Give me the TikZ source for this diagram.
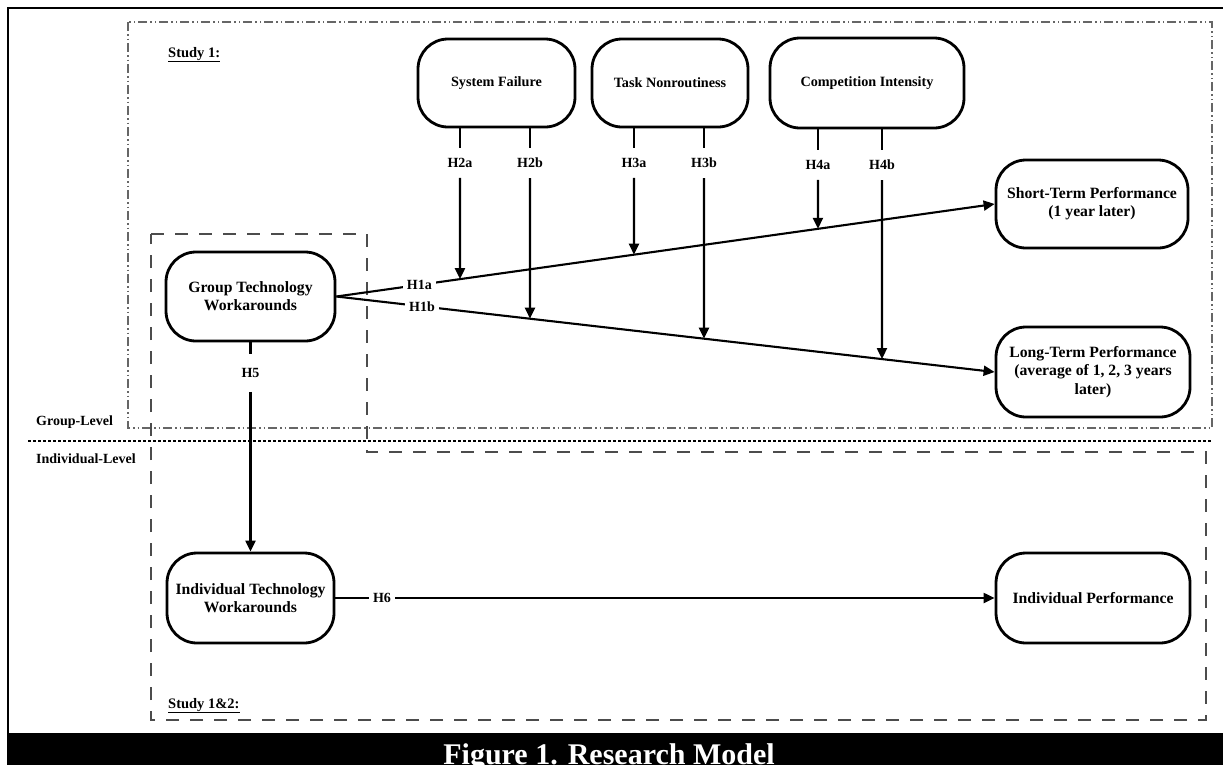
\documentclass[tikz,border=0pt]{standalone}
\usepackage{fontspec}
\setmainfont{Liberation Serif}
\usetikzlibrary{arrows.meta}
\begin{document}
\begin{tikzpicture}[x=1pt,y=-1pt,
  cbox/.style={draw, line width=2.8pt, rounded corners=30pt, align=center, inner sep=2pt,
    font=\bfseries\fontsize{15.7}{18.3}\selectfont, fill=white},
  mbox/.style={cbox, font=\bfseries\fontsize{14.2}{17}\selectfont},
  hlab/.style={fill=white, font=\bfseries\fontsize{14}{16}\selectfont, inner xsep=4pt, inner ysep=2pt},
  vlab/.style={fill=white, font=\bfseries\fontsize{14}{16}\selectfont, inner xsep=2pt, inner ysep=10pt},
  lvl/.style={font=\bfseries\fontsize{14}{16}\selectfont, anchor=base west, inner sep=0pt},
  arr/.style={line width=2.1pt, -{Triangle[length=11pt,width=10pt]}},
  conn/.style={line width=2.1pt},
  studyone/.style={draw=black!60, line width=1.2pt, dash pattern=on 9pt off 3pt on 1.5pt off 3pt on 1.5pt off 3pt},
  studytwo/.style={draw=black!70, line width=1.3pt, dash pattern=on 13pt off 11pt},
  levelline/.style={draw=black, line width=1.7pt, dash pattern=on 3pt off 2pt},
]
\useasboundingbox (0,0) rectangle (1223,764);

% outer frame and caption bar
\draw[line width=2.6pt] (1240,8) -- (8,8) -- (8,740);
\fill[black] (7,733) rectangle (1240,775);
\node[font=\bfseries\fontsize{30}{30}\selectfont, text=white, anchor=base, inner sep=0pt] (title) at (609,764) {Figure 1. Research Model};

% study boxes
\draw[studyone] (128,22) rectangle (1212,428);
\draw[studytwo] (151,234) -- (367,234) -- (367,452) -- (1206,452) -- (1206,720) -- (151,720) -- cycle;
\draw[levelline] (28,441) -- (1212,441);

\node[lvl, font=\bfseries\fontsize{14.5}{16}\selectfont] (s1) at (168,57) {\underline{Study 1:}};
\node[lvl, font=\bfseries\fontsize{14.5}{16}\selectfont] (s12) at (168,708) {\underline{Study 1\&2:}};
\node[lvl] (gl) at (36,425) {Group-Level};
\node[lvl] (il) at (36,463) {Individual-Level};

% constructs
\node[cbox, minimum width=169pt, minimum height=89pt] (g) at (250.5,296.5) {Group Technology\\Workarounds};
\node[mbox, minimum width=157pt, minimum height=88pt] (sf) at (496.5,83) {System Failure};
\node[mbox, minimum width=156pt, minimum height=88pt] (tn) at (670,83) {Task Nonroutiness};
\node[mbox, minimum width=194pt, minimum height=90pt] (ci) at (867,83) {Competition Intensity};
\node[cbox, minimum width=192pt, minimum height=88pt] (st) at (1092,204) {Short-Term Performance\\(1 year later)};
\node[cbox, minimum width=194pt, minimum height=90pt] (lt) at (1093,372) {Long-Term Performance\\(average of 1, 2, 3 years\\later)};
\node[cbox, minimum width=167pt, minimum height=90pt] (iw) at (250.5,598) {Individual Technology\\Workarounds};
\node[cbox, minimum width=194pt, minimum height=90pt] (ip) at (1093,598) {Individual Performance};

% main effects
\draw[arr] (g.east) -- node[hlab, pos=0.126] (l1a) {H1a} (st.west);
\draw[arr] (g.east) -- node[hlab, pos=0.13] (l1b) {H1b} (lt.west);

% moderator labels
\node[vlab] (l2a) at (460,163) {H2a};
\node[vlab] (l2b) at (530,163) {H2b};
\node[vlab] (l3a) at (634,163) {H3a};
\node[vlab] (l3b) at (704,163) {H3b};
\node[vlab] (l4a) at (818,165) {H4a};
\node[vlab] (l4b) at (882,165) {H4b};
\coordinate (b2a) at (460,600);
\coordinate (b2b) at (530,600);
\coordinate (b3a) at (634,600);
\coordinate (b3b) at (704,600);
\coordinate (b4a) at (818,600);
\coordinate (b4b) at (882,600);
\coordinate (t2a) at (intersection of g.east--st.west and l2a.center--b2a);
\coordinate (t2b) at (intersection of g.east--lt.west and l2b.center--b2b);
\coordinate (t3a) at (intersection of g.east--st.west and l3a.center--b3a);
\coordinate (t3b) at (intersection of g.east--lt.west and l3b.center--b3b);
\coordinate (t4a) at (intersection of g.east--st.west and l4a.center--b4a);
\coordinate (t4b) at (intersection of g.east--lt.west and l4b.center--b4b);

\draw[conn] (sf.south -| l2a) -- (l2a.north);
\draw[arr] (l2a.south) -- (t2a);
\draw[conn] (sf.south -| l2b) -- (l2b.north);
\draw[arr] (l2b.south) -- (t2b);
\draw[conn] (tn.south -| l3a) -- (l3a.north);
\draw[arr] (l3a.south) -- (t3a);
\draw[conn] (tn.south -| l3b) -- (l3b.north);
\draw[arr] (l3b.south) -- (t3b);
\draw[conn] (ci.south -| l4a) -- (l4a.north);
\draw[arr] (l4a.south) -- (t4a);
\draw[conn] (ci.south -| l4b) -- (l4b.north);
\draw[arr] (l4b.south) -- (t4b);

% cross-level and individual
\node[vlab, inner ysep=14pt] (l5) at (250.5,373) {H5};
\draw[conn] (g.south) -- (l5.north);
\draw[arr] (l5.south) -- (iw.north);

\node[hlab] (l6) at (382,598) {H6};
\draw[conn] (iw.east) -- (l6.west);
\draw[arr] (l6.east) -- (ip.west);
\end{tikzpicture}
\end{document}
